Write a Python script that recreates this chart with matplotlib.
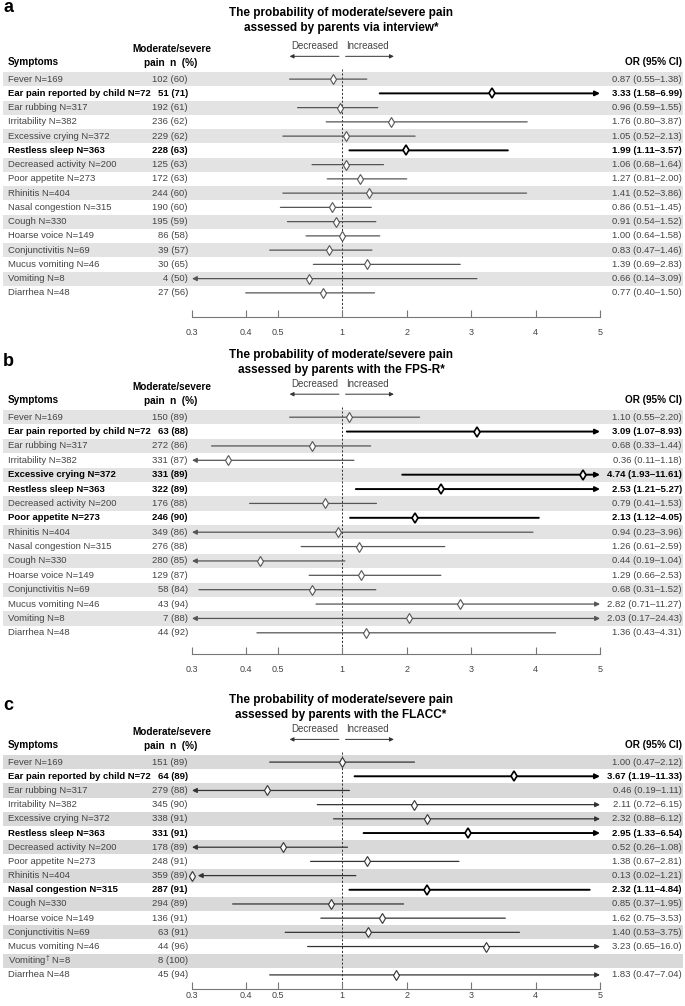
import numpy as np
import matplotlib
matplotlib.use('Agg')
import matplotlib.pyplot as plt
from matplotlib.transforms import blended_transform_factory

plt.rcParams['font.family'] = ['Liberation Sans', 'DejaVu Sans']
plt.rcParams['mathtext.fontset'] = 'custom'
plt.rcParams['mathtext.rm'] = 'Liberation Sans'

# ---- data ----
symptoms = ["Fever N=169", "Ear pain reported by child N=72", "Ear rubbing N=317",
            "Irritability N=382", "Excessive crying N=372", "Restless sleep N=363",
            "Decreased activity N=200", "Poor appetite N=273", "Rhinitis N=404",
            "Nasal congestion N=315", "Cough N=330", "Hoarse voice N=149",
            "Conjunctivitis N=69", "Mucus vomiting N=46", "Vomiting N=8", "Diarrhea N=48"]
symptoms_c = symptoms[:14] + [r"Vomiting$^{\dagger}$ N=8", "Diarrhea N=48"]

titles = ["The probability of moderate/severe pain\nassessed by parents via interview*",
          "The probability of moderate/severe pain\nassessed by parents with the FPS-R*",
          "The probability of moderate/severe pain\nassessed by parents with the FLACC*"]

a_n = [102, 51, 192, 236, 229, 228, 125, 172, 244, 190, 195, 86, 39, 30, 4, 27]
a_pct = [60, 71, 61, 62, 62, 63, 63, 63, 60, 60, 59, 58, 57, 65, 50, 56]
a_or = [0.87, 3.33, 0.96, 1.76, 1.05, 1.99, 1.06, 1.27, 1.41, 0.86, 0.91, 1.00, 0.83, 1.39, 0.66, 0.77]
a_lo = [0.55, 1.58, 0.59, 0.80, 0.52, 1.11, 0.68, 0.81, 0.52, 0.51, 0.54, 0.64, 0.47, 0.69, 0.14, 0.40]
a_hi = [1.38, 6.99, 1.55, 3.87, 2.13, 3.57, 1.64, 2.00, 3.86, 1.45, 1.52, 1.58, 1.46, 2.83, 3.09, 1.50]
a_bold = [1, 5]

b_n = [150, 63, 272, 331, 331, 322, 176, 246, 349, 276, 280, 129, 58, 43, 7, 44]
b_pct = [89, 88, 86, 87, 89, 89, 88, 90, 86, 88, 85, 87, 84, 94, 88, 92]
b_or = [1.10, 3.09, 0.68, 0.36, 4.74, 2.53, 0.79, 2.13, 0.94, 1.26, 0.44, 1.29, 0.68, 2.82, 2.03, 1.36]
b_lo = [0.55, 1.07, 0.33, 0.11, 1.93, 1.21, 0.41, 1.12, 0.23, 0.61, 0.19, 0.66, 0.31, 0.71, 0.17, 0.43]
b_hi = [2.20, 8.93, 1.44, 1.18, 11.61, 5.27, 1.53, 4.05, 3.96, 2.59, 1.04, 2.53, 1.52, 11.27, 24.43, 4.31]
b_bold = [1, 4, 5, 7]

c_n = [151, 64, 279, 345, 338, 331, 178, 248, 359, 287, 294, 136, 63, 44, 8, 45]
c_pct = [89, 89, 88, 90, 91, 91, 89, 91, 89, 91, 89, 91, 91, 96, 100, 94]
c_or = [1.00, 3.67, 0.46, 2.11, 2.32, 2.95, 0.52, 1.38, 0.13, 2.32, 0.85, 1.62, 1.40, 3.23, None, 1.83]
c_lo = [0.47, 1.19, 0.19, 0.72, 0.88, 1.33, 0.26, 0.67, 0.02, 1.11, 0.37, 0.75, 0.53, 0.65, None, 0.47]
c_hi = [2.12, 11.33, 1.11, 6.15, 6.12, 6.54, 1.08, 2.81, 1.21, 4.84, 1.95, 3.53, 3.75, 16.0, None, 7.04]
c_bold = [1, 5, 9]

ticks = [0.3, 0.4, 0.5, 1, 2, 3, 4, 5]
tick_labels = ["0.3", "0.4", "0.5", "1", "2", "3", "4", "5"]


# OR axis: linear above 1, reciprocal below 1
def fwd(x):
    x = np.asarray(x, float)
    with np.errstate(divide='ignore', invalid='ignore'):
        return np.where(x >= 1, x, 2 - 1 / x)


def inv(u):
    u = np.asarray(u, float)
    with np.errstate(divide='ignore', invalid='ignore'):
        return np.where(u >= 1, u, 1 / (2 - u))


def fmt(v):
    return "16.0" if v == 16.0 else f"{v:.2f}"


W, H = 685, 1006
fig = plt.figure(figsize=(W / 100, H / 100), dpi=100)

# px geometry: band top, band bottom, spine offset, tick pad, letter y, title offset (rows)
panels = [
    (symptoms, a_n, a_pct, a_or, a_lo, a_hi, a_bold, 72, 300, 12, 8, 8, 4.1, '#e3e3e3', '#555555'),
    (symptoms, b_n, b_pct, b_or, b_lo, b_hi, b_bold, 410, 640, 10, 8, 362, 3.8, '#e3e3e3', '#555555'),
    (symptoms_c, c_n, c_pct, c_or, c_lo, c_hi, c_bold, 755, 982, 5, 1.5, 705, 3.85, '#d9d9d9', '#333333'),
]

x0_px, x1_px = 3, 683
u03, u5 = float(fwd(0.3)), 5.0
ppu = (600 - 192) / (u5 - u03)
u_left = u03 - (192 - x0_px) / ppu
u_right = u5 + (x1_px - 600) / ppu


def fx(px):
    return (px - x0_px) / (x1_px - x0_px)


FS = 6.8

for pi, (names, n, pct, orv, lo, hi, bold, top, bot, off, pad, ly, toff, band, gcol) in enumerate(panels):
    ax = fig.add_axes([x0_px / W, 1 - bot / H, (x1_px - x0_px) / W, (bot - top) / H])
    ax.set_xscale('function', functions=(fwd, inv))
    ax.set_xlim(float(inv(u_left)), float(inv(u_right)))
    ax.set_ylim(len(names) - 0.5, -0.5)
    row_px = (bot - top) / len(names)
    tr = blended_transform_factory(ax.transAxes, ax.transData)

    for s in ['top', 'left', 'right']:
        ax.spines[s].set_visible(False)
    ax.set_yticks([])
    ax.spines['bottom'].set_position(('outward', off))
    ax.spines['bottom'].set_bounds(0.3, 5)
    ax.spines['bottom'].set_color('#777777')
    ax.spines['bottom'].set_linewidth(0.8)
    ax.set_xticks(ticks)
    ax.set_xticklabels(tick_labels)
    ax.xaxis.set_minor_locator(matplotlib.ticker.NullLocator())
    ax.tick_params(axis='x', direction='in', length=5, width=0.8, color='#777777',
                   labelcolor='#444444', labelsize=6.5, pad=pad)

    for i in range(len(names)):
        if i % 2 == 0:
            ax.axhspan(i - 0.5, i + 0.5, color=band, lw=0, zorder=0)

    ax.plot([1, 1], [-0.7, len(names) - 0.5 + off / row_px], ls=(0, (2.2, 1.8)),
            color='#333333', lw=0.7, clip_on=False, zorder=1)

    for i in range(len(names)):
        b = i in bold
        col = 'black' if b else gcol
        txtcol = 'black' if b else '#444444'
        fw = 'bold' if b else 'normal'
        ax.text(fx(8), i, names[i], transform=tr, ha='left', va='center',
                fontsize=FS, fontweight=fw, color=txtcol)
        ax.text(fx(188), i, f"{n[i]} ({pct[i]})", transform=tr, ha='right', va='center',
                fontsize=FS, fontweight=fw, color=txtcol)
        if orv[i] is None:
            continue
        ax.text(fx(682), i, f"{orv[i]:.2f} ({fmt(lo[i])}\u2013{fmt(hi[i])})", transform=tr,
                ha='right', va='center', fontsize=FS, fontweight=fw, color=txtcol)
        lw = 1.4 if b else 0.9
        left, right = lo[i] < 0.3, hi[i] > 5
        style = '<|-|>' if (left and right) else '<|-' if left else '-|>' if right else '-'
        # estimate below the axis range: diamond sits at the edge, arrow just right of it
        x_lo = max(lo[i], 0.3) if orv[i] >= 0.3 else float(inv(u03 + 0.09))
        ax.annotate('', xy=(min(hi[i], 5), i), xytext=(x_lo, i),
                    arrowprops=dict(arrowstyle=style, color=col, lw=lw, mutation_scale=7,
                                    shrinkA=0, shrinkB=0), zorder=2, annotation_clip=False)
        mx = max(orv[i], 0.3)
        ax.plot(mx, i, marker='d', ms=5.5, mfc='white', mec=col,
                mew=1.2 if b else 0.8, zorder=3, clip_on=False)

    # headers
    ax.text(fx(8), -1.2, "Symptoms", transform=tr, ha='left', va='center',
            fontsize=7.2, fontweight='bold')
    ax.text(fx(172), -2.1, "Moderate/severe", transform=tr, ha='center', va='center',
            fontsize=7.2, fontweight='bold')
    ax.text(fx(197), -1.15, "pain  n  (%)", transform=tr, ha='right', va='center',
            fontsize=7.2, fontweight='bold')
    ax.text(fx(682), -1.2, "OR (95% CI)", transform=tr, ha='right', va='center',
            fontsize=7.2, fontweight='bold')
    ax.text(0.94, -2.3, "Decreased", ha='right', va='center', fontsize=7, color='#444444')
    ax.text(1.06, -2.3, "Increased", ha='left', va='center', fontsize=7, color='#444444')
    ax.annotate('', xy=(0.55, -1.6), xytext=(0.95, -1.6),
                arrowprops=dict(arrowstyle='-|>', color='#333333', lw=0.7, mutation_scale=6,
                                shrinkA=0, shrinkB=0), annotation_clip=False)
    ax.annotate('', xy=(1.8, -1.6), xytext=(1.05, -1.6),
                arrowprops=dict(arrowstyle='-|>', color='#333333', lw=0.7, mutation_scale=6,
                                shrinkA=0, shrinkB=0), annotation_clip=False)
    ax.text(fx(341), -toff, titles[pi], transform=tr, ha='center', va='center',
            fontsize=8.5, fontweight='bold', linespacing=1.3)
    fig.text(3 / W, 1 - ly / H, "abc"[pi], ha='left', va='center', fontsize=13,
             fontweight='bold')

fig.savefig('out.png', dpi=100)
